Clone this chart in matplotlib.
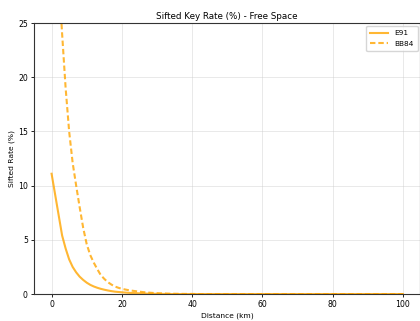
import numpy as np
import matplotlib
matplotlib.use("Agg")
import matplotlib.pyplot as plt

# Distance grid (km): 1 km steps up to 20 km, then 2 km steps
distance_km = list(range(0, 20)) + list(range(20, 101, 2))

# Sifted key rates (%) for the two protocols
e91_rate = [11.1, 9.2, 7.3, 5.4, 4.2, 3.2, 2.5, 2.0, 1.6, 1.3,
            1.05, 0.85, 0.7, 0.58, 0.48, 0.4, 0.33, 0.27, 0.22, 0.19,
            0.16, 0.11, 0.08, 0.05, 0.03, 0.02, 0.01] + [0.0] * 34

bb84_rate = [46.0, 37.0, 29.5, 24.0, 19.0, 15.0, 12.1, 10.0, 8.0, 6.1,
             4.6, 3.6, 2.9, 2.3, 1.75, 1.4, 1.1, 0.88, 0.7, 0.58,
             0.48, 0.35, 0.26, 0.18, 0.12, 0.08, 0.05, 0.03, 0.02, 0.01,
             0.01] + [0.0] * 30

fig = plt.figure(figsize=(4.2, 3.21), dpi=100)
ax = fig.add_axes([0.081, 0.084, 0.92, 0.844])

line_color = "#FFA500"
ax.plot(distance_km, e91_rate, color=line_color, alpha=0.8, lw=1.5, label="E91")
ax.plot(distance_km, bb84_rate, color=line_color, alpha=0.8, lw=1.5,
        linestyle=(0, (2.6, 1.4)), label="BB84")

ax.set_xlim(-5, 105)
ax.set_ylim(0, 25)
ax.set_xticks([0, 20, 40, 60, 80, 100])
ax.set_yticks([0, 5, 10, 15, 20, 25])
ax.grid(True, color="#cccccc", alpha=0.5, lw=0.6)

ax.set_title("Sifted Key Rate (%) - Free Space", fontsize=6.3, pad=3)
ax.set_xlabel("Distance (km)", fontsize=5.4, labelpad=2)
ax.set_ylabel("Sifted Rate (%)", fontsize=5.4, labelpad=2)
ax.tick_params(labelsize=5.6, length=2.5, width=0.6, pad=2)
for s in ax.spines.values():
    s.set_linewidth(0.8)
    s.set_color("#333333")

ax.legend(loc="upper right", fontsize=5.3, framealpha=0.8, handlelength=2.4,
          borderaxespad=0.35, borderpad=0.6, labelspacing=0.6)

fig.savefig("out.png", dpi=100)
